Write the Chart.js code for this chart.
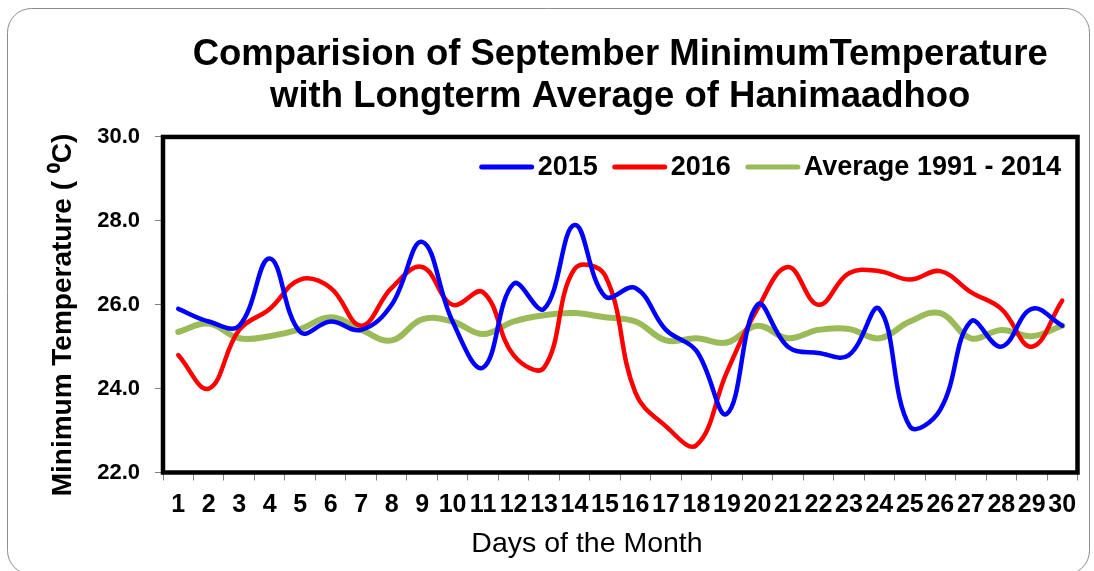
<!DOCTYPE html>
<html>
<head>
<meta charset="utf-8">
<script src="https://cdn.jsdelivr.net/npm/chart.js"></script>
<style>
  html, body { margin: 0; padding: 0; background: #fff; }
  #wrap { width: 1094px; height: 571px; }
</style>
</head>
<body>
<div id="wrap"><canvas id="myChart" width="1094" height="571"></canvas></div>
<script>
// days of september
const days = ['1','2','3','4','5','6','7','8','9','10','11','12','13','14','15',
              '16','17','18','19','20','21','22','23','24','25','26','27','28','29','30'];

// minimum temperature (C)
const min2015 = [25.9, 25.6, 25.5, 27.1, 25.35, 25.6, 25.4, 26.0, 27.5, 25.6,
                 24.5, 26.5, 25.9, 27.9, 26.2, 26.4, 25.4, 24.9, 23.4, 26.0,
                 25.0, 24.85, 24.8, 25.9, 23.1, 23.5, 25.6, 25.0, 25.9, 25.5];
const min2016 = [24.8, 24.0, 25.4, 25.9, 26.6, 26.4, 25.5, 26.4, 26.9, 26.0,
                 26.3, 24.8, 24.5, 26.85, 26.7, 23.9, 23.1, 22.65, 24.4, 25.9,
                 26.9, 26.0, 26.75, 26.8, 26.6, 26.8, 26.3, 25.9, 25.0, 26.1];
const avg9114 = [25.35, 25.55, 25.2, 25.25, 25.42, 25.7, 25.4, 25.15, 25.65, 25.6,
                 25.3, 25.6, 25.75, 25.8, 25.7, 25.6, 25.15, 25.2, 25.1, 25.5,
                 25.2, 25.4, 25.42, 25.2, 25.6, 25.8, 25.2, 25.4, 25.25, 25.5];

const yTicks = [22, 24, 26, 28, 30];

const FONT = '"Liberation Sans", Arial, sans-serif';

// white page with the rounded grey frame
const framePlugin = {
    id: 'frame',
    beforeDraw(chart) {
        const c = chart.ctx;
        c.save();
        c.fillStyle = '#fff';
        c.fillRect(0, 0, chart.width, chart.height);
        c.strokeStyle = '#8c8c8c';
        c.lineWidth = 1;
        c.beginPath();
        c.roundRect(7.5, 8.5, 1082, 566, 24);
        c.stroke();
        c.restore();
    }
};

// thick black plot box, axis titles and legend inside the plot area
const boxPlugin = {
    id: 'box',
    afterDatasetsDraw(chart) {
        const a = chart.chartArea;
        const c = chart.ctx;
        c.save();
        c.strokeStyle = '#000';
        c.lineWidth = 4.5;
        c.strokeRect(a.left, a.top, a.right - a.left, a.bottom - a.top);

        // axis titles
        c.fillStyle = '#000';
        c.textAlign = 'center';
        c.textBaseline = 'middle';
        c.font = '28.5px ' + FONT;
        c.fillText('Days of the Month', 587, 544);
        c.save();
        c.translate(63, 315);
        c.rotate(-Math.PI / 2);
        c.font = 'bold 28px ' + FONT;
        c.fillText('Minimum Temperature ( \u2070C)', 0, 0);
        c.restore();

        // legend, right aligned
        c.textAlign = 'left';
        c.font = 'bold 27px ' + FONT;
        const lineLen = 54, gap = 4, itemGap = 15;
        const items = chart.data.datasets.map(ds => ({
            label: ds.label, color: ds.borderColor,
            tw: c.measureText(ds.label).width
        }));
        let total = 0;
        items.forEach((it, i) => { total += lineLen + gap + it.tw + (i ? itemGap : 0); });
        let x = 1061 - total;
        const y = 167;
        items.forEach(it => {
            c.strokeStyle = it.color;
            c.lineWidth = 5;
            c.lineCap = 'round';
            c.beginPath();
            c.moveTo(x + 2, y);
            c.lineTo(x + lineLen - 2, y);
            c.stroke();
            c.fillStyle = '#000';
            c.fillText(it.label, x + lineLen + gap, y + 1);
            x += lineLen + gap + it.tw + itemGap;
        });
        c.restore();
    }
};

const ctx = document.getElementById('myChart').getContext('2d');
const myChart = new Chart(ctx, {
    type: 'line',
    data: {
        labels: days,
        datasets: [{
            label: '2015',
            data: min2015,
            borderColor: '#0000ff',
            borderWidth: 4.5
        }, {
            label: '2016',
            data: min2016,
            borderColor: '#ff0000',
            borderWidth: 4.5
        }, {
            label: 'Average 1991 - 2014',
            data: avg9114,
            borderColor: '#9bbb59',
            borderWidth: 6
        }]
    },
    options: {
        responsive: false,
        animation: false,
        devicePixelRatio: 1,
        layout: { padding: { top: 0, right: 16.5, bottom: 0, left: 0 } },
        elements: {
            line: { tension: 0.4, borderCapStyle: 'round', borderJoinStyle: 'round' },
            point: { radius: 0, hoverRadius: 0 }
        },
        plugins: {
            legend: { display: false },
            tooltip: { enabled: false },
            title: {
                display: true,
                fullSize: false,
                text: ['Comparision of September MinimumTemperature',
                       'with Longterm Average of Hanimaadhoo'],
                color: '#000',
                font: { family: FONT, size: 36.5, weight: 'bold', lineHeight: 1.15 },
                padding: { top: 34, bottom: 19 }
            }
        },
        scales: {
            x: {
                offset: true,
                grid: { offset: true, drawOnChartArea: false, tickLength: 8, color: '#808080' },
                border: { display: false },
                ticks: {
                    autoSkip: false, maxRotation: 0, color: '#000', padding: 10,
                    font: { family: FONT, size: 25, weight: 'bold' }
                },
                afterFit(scale) { scale.height = 98.5; }
            },
            y: {
                min: 22,
                max: 30,
                afterBuildTicks(scale) { scale.ticks = yTicks.map(v => ({ value: v })); },
                grid: { drawOnChartArea: false, tickLength: 8, color: '#808080' },
                border: { display: false },
                ticks: {
                    color: '#000', padding: 15,
                    font: { family: FONT, size: 22, weight: 'bold' },
                    callback: v => Number(v).toFixed(1)
                },
                afterFit(scale) { scale.width = 163; }
            }
        }
    },
    plugins: [framePlugin, boxPlugin]
});
</script>
</body>
</html>
